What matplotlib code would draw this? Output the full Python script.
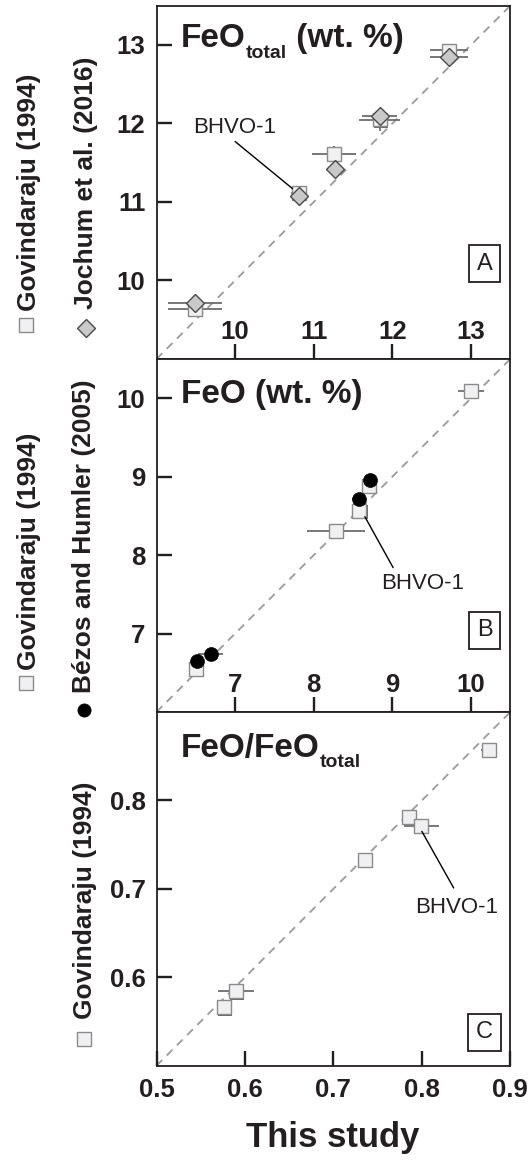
import matplotlib
matplotlib.use("Agg")
import matplotlib.pyplot as plt
import matplotlib.patheffects as pe
from matplotlib.lines import Line2D

plt.rcParams['font.family'] = ['Liberation Sans', 'DejaVu Sans']

# ---------------- data ----------------
# Panel A: FeO total (wt. %)
a_x_gov = [9.49, 10.81, 11.26, 11.84, 12.72]
a_y_gov = [9.64, 11.12, 11.61, 12.05, 12.93]
a_xerr_gov = [0.34, 0.10, 0.28, 0.26, 0.24]
a_yerr_gov = [0.03, 0.05, 0.10, 0.14, 0.07]
a_x_joc = [9.49, 10.81, 11.27, 11.84, 12.72]
a_y_joc = [9.71, 11.08, 11.42, 12.10, 12.85]
a_xerr_joc = [0.34, 0.10, 0.08, 0.22, 0.24]

# Panel B: FeO (wt. %)
b_x_gov = [10.00, 8.70, 8.58, 8.28, 6.50]
b_y_gov = [10.09, 8.88, 8.56, 8.31, 6.55]
b_xerr_gov = [0.16, 0.09, 0.09, 0.37, 0.05]
b_x_bez = [8.72, 8.58, 6.69, 6.51]
b_y_bez = [8.96, 8.71, 6.74, 6.65]
b_xerr_bez = [0.09, 0.09, 0.16, 0.05]

# Panel C: FeO/FeO total
c_x_gov = [0.8756, 0.7857, 0.7993, 0.7359, 0.5898, 0.5762]
c_y_gov = [0.857, 0.781, 0.771, 0.733, 0.584, 0.566]
c_xerr_gov = [0.009, 0.004, 0.020, 0.005, 0.020, 0.007]

a_ticks = [10, 11, 12, 13]
b_ticks = [7, 8, 9, 10]
c_yticks = [0.6, 0.7, 0.8]
c_xticks = [0.5, 0.6, 0.7, 0.8, 0.9]
a_lim = (9, 13.5)
b_lim = (6, 10.5)
c_lim = (0.5, 0.9)

# BHVO-1 annotation (label pos, leader start, leader end)
a_lab = (9.46, 11.88); a_lead = ((10.0, 11.77), (10.73, 11.17))
b_lab = (8.86, 7.57); b_lead = ((8.65, 8.49), (9.01, 7.84))
c_lab = (0.7925, 0.673); c_lead = ((0.800, 0.765), (0.836, 0.701))

# ---------------- style ----------------
INK = '#231f20'
ERR = '#6d6d6d'
shadow = [pe.SimplePatchShadow(offset=(0.9, -0.9), shadow_rgbFace='#6a6a6a', alpha=1.0),
          pe.Normal()]
sq_kw = dict(marker='s', ms=10.0, mfc='#f0f0f2', mec='#8a8a8a', mew=1.0, ls='none')
di_kw = dict(marker='D', ms=9.6, mfc='#c9c9c9', mec='#4a4a4a', mew=1.0, ls='none')
ci_kw = dict(marker='o', ms=10.0, mfc='black', mec='black', mew=0.5, ls='none')

W, H = 532, 1162
fig = plt.figure(figsize=(W / 100, H / 100), dpi=100)


def px(x, y):
    return x / W, 1 - y / H


left = 156.5 / W
width = (510.3 - 156.5) / W
axA = fig.add_axes([left, 1 - 359 / H, width, 353.3 / H])
axB = fig.add_axes([left, 1 - 712 / H, width, 353.0 / H])
axC = fig.add_axes([left, 1 - 1065.7 / H, width, 353.7 / H])


def style(ax, lim, yt, xt, inside_x):
    ax.set_xlim(lim)
    ax.set_ylim(lim)
    ax.plot(lim, lim, color='#9a9a9a', lw=1.3, dashes=(4.5, 3.5), zorder=1)
    ax.set_yticks(yt)
    ax.set_xticks(xt)
    for s in ax.spines.values():
        s.set_linewidth(1.3)
        s.set_color(INK)
    ax.tick_params(axis='y', direction='in', length=11, width=1.7, pad=8,
                   labelsize=18.5, colors=INK)
    ax.tick_params(axis='x', direction='in', length=11, width=1.7,
                   pad=(-28 if inside_x else 9), labelsize=18.5, colors=INK)


style(axA, a_lim, a_ticks, a_ticks, True)
style(axB, b_lim, b_ticks, b_ticks, True)
style(axC, c_lim, c_yticks, c_xticks, False)
axC.set_xticklabels(['0.5', '0.6', '0.7', '0.8', '0.9'])
axC.set_yticklabels(['0.6', '0.7', '0.8'])
for ax in (axA, axB, axC):
    for lab in ax.get_xticklabels() + ax.get_yticklabels():
        lab.set_fontweight('bold')

eb = dict(fmt='none', ecolor=ERR, elinewidth=1.3, capsize=0, zorder=2)

# Panel A
axA.errorbar(a_x_gov, a_y_gov, xerr=a_xerr_gov, yerr=a_yerr_gov, **eb)
axA.plot(a_x_gov, a_y_gov, zorder=3, path_effects=shadow, **sq_kw)
axA.errorbar(a_x_joc, a_y_joc, xerr=a_xerr_joc, **eb)
axA.plot(a_x_joc, a_y_joc, zorder=4, **di_kw)

# Panel B
axB.errorbar(b_x_gov, b_y_gov, xerr=b_xerr_gov, **eb)
axB.plot(b_x_gov, b_y_gov, zorder=3, path_effects=shadow, **sq_kw)
axB.errorbar(b_x_bez, b_y_bez, xerr=b_xerr_bez, **eb)
axB.plot(b_x_bez, b_y_bez, zorder=4, **ci_kw)

# Panel C
axC.errorbar(c_x_gov, c_y_gov, xerr=c_xerr_gov, **eb)
axC.plot(c_x_gov, c_y_gov, zorder=3, path_effects=shadow, **sq_kw)


# Titles with manual subscript
def title(ax, x, y, main, sub=None, rest=None):
    t = ax.text(x, y, main, transform=ax.transAxes, fontsize=24,
                fontweight='bold', color=INK, ha='left', va='baseline')
    if sub is None:
        return
    s = ax.annotate(sub, xy=(1, 0), xycoords=t, xytext=(0.5, -5.2),
                    textcoords='offset points', fontsize=14, fontweight='bold',
                    color=INK, ha='left', va='bottom')
    if rest:
        ax.annotate(rest, xy=(1, 0), xycoords=s, xytext=(0, 5.4),
                    textcoords='offset points', fontsize=24, fontweight='bold',
                    color=INK, ha='left', va='bottom')


title(axA, 0.068, 0.882, 'FeO', 'total', ' (wt. %)')
title(axB, 0.068, 0.874, 'FeO (wt. %)')
title(axC, 0.068, 0.873, 'FeO/FeO', 'total')

# Panel letters
box = dict(boxstyle='square,pad=0.33', fc='white', ec=INK, lw=1.3)
axA.text(0.927, 0.27, 'A', transform=axA.transAxes, fontsize=17, ha='center',
         va='center', color=INK, bbox=box)
axB.text(0.927, 0.231, 'B', transform=axB.transAxes, fontsize=17, ha='center',
         va='center', color=INK, bbox=box)
axC.text(0.927, 0.094, 'C', transform=axC.transAxes, fontsize=17, ha='center',
         va='center', color=INK, bbox=box)

# BHVO-1 labels
for ax, lab, lead in ((axA, a_lab, a_lead), (axB, b_lab, b_lead), (axC, c_lab, c_lead)):
    ax.text(lab[0], lab[1], 'BHVO-1', fontsize=16, color=INK, ha='left', va='baseline')
    ax.annotate('', xy=lead[1], xytext=lead[0],
                arrowprops=dict(arrowstyle='-', lw=1.0, color='black',
                                shrinkA=0, shrinkB=0), zorder=5)


# Y-axis labels (rotated) with markers
def ylabel(text, x, ybottom, mx, my, mkw, effects=None):
    fig.text(*px(x, ybottom), text, rotation=90, ha='center', va='bottom',
             fontsize=19, fontweight='bold', color=INK)
    kw = dict(mkw)
    kw['ms'] = kw['ms'] * 0.95
    ln = Line2D([px(mx, my)[0]], [px(mx, my)[1]], transform=fig.transFigure, **kw)
    if effects:
        ln.set_path_effects(effects)
    fig.add_artist(ln)


ylabel('Govindaraju (1994)', 29, 311, 26, 325, sq_kw, shadow)
ylabel('Jochum et al. (2016)', 86, 309, 86, 328, di_kw)
ylabel('Govindaraju (1994)', 29, 670, 26, 683, sq_kw, shadow)
ylabel('Bézos and Humler (2005)', 84, 693, 84, 710, ci_kw)
ylabel('Govindaraju (1994)', 85, 1019, 84, 1039, sq_kw, shadow)

fig.text(*px(333, 1138), 'This study', ha='center', va='center', fontsize=25,
         fontweight='bold', color=INK)

fig.savefig('out.png', dpi=100)
